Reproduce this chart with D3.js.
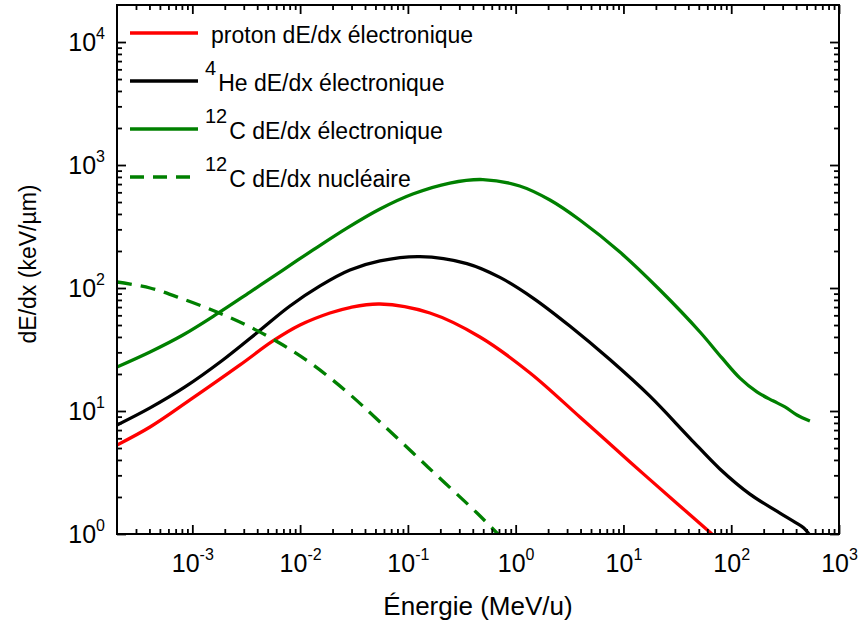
<!DOCTYPE html>
<html>
<head>
<meta charset="utf-8">
<script src="https://cdn.jsdelivr.net/npm/d3@7"></script>
<style>
  body { margin: 0; background: #fff; }
  text { font-family: Arial, "Liberation Sans", sans-serif; fill: #000; }
</style>
</head>
<body>
<svg id="chart" width="858" height="626"></svg>
<script>
// Energy (MeV/u) and stopping power (keV/µm) for each curve
const protonE = [2e-4, 4.05e-4, 9.51e-4, 2.77e-3, 5.60e-3, 9.98e-3, 1.89e-2, 2.90e-2, 5.51e-2, 0.160, 0.466, 1.36, 3.94, 11.5, 33.4, 66.2];
const protonS = [5.29, 7.41, 12.3, 23.7, 37.1, 50.0, 62.6, 69.4, 74.1, 62.6, 40.0, 20.4, 8.94, 3.85, 1.69, 1.0];

const heliumE = [2e-4, 4.05e-4, 8.55e-4, 1.92e-3, 4.06e-3, 8.05e-3, 1.53e-2, 2.90e-2, 5.51e-2, 0.129, 0.353, 0.714, 1.45, 3.18, 7.48, 17.6, 41.3, 78.5, 149, 283, 389, 472, 526];
const heliumS = [7.69, 10.6, 15.7, 26.0, 43.9, 71.4, 104, 140, 166, 180, 158, 122, 82.9, 49.1, 26.2, 13.2, 6.03, 3.38, 2.11, 1.48, 1.25, 1.12, 1.0];

const carbonE = [2e-4, 4.05e-4, 8.18e-4, 1.69e-3, 3.43e-3, 6.93e-3, 1.32e-2, 2.72e-2, 5.51e-2, 0.111, 0.245, 0.497, 1.09, 2.08, 3.94, 9.27, 21.8, 51.3, 82.0, 120.5, 173, 244, 315, 407, 537];
const carbonS = [22.8, 30.2, 41.5, 61.5, 92.7, 140, 204, 307, 439, 581, 714, 762, 675, 519, 357, 196, 96.3, 43.9, 27.0, 18.5, 14.3, 12.1, 10.8, 9.28, 8.29];

const carbonNucE = [2e-4, 4.05e-4, 8.18e-4, 1.69e-3, 3.43e-3, 6.93e-3, 1.32e-2, 2.72e-2, 5.51e-2, 0.153, 0.438, 0.684];
const carbonNucS = [112, 100, 81.4, 63.8, 48.2, 34.4, 23.7, 14.3, 8.14, 3.51, 1.48, 1.0];

const legendSup = ["", "4", "12", "12"];
const legendText = ["proton dE/dx électronique", "He dE/dx électronique", "C dE/dx électronique", "C dE/dx nucléaire"];

const xMajor = [1e-3, 1e-2, 1e-1, 1e0, 1e1, 1e2, 1e3];
const xMajorExp = ["-3", "-2", "-1", "0", "1", "2", "3"];
const yMajor = [1e0, 1e1, 1e2, 1e3, 1e4];
const yMajorExp = ["0", "1", "2", "3", "4"];

const xTitle = "Énergie (MeV/u)";
const yTitle = "dE/dx (keV/µm)";

// ---- layout ----
const L = 117, R = 839, T = 5, B = 534;
const svg = d3.select("#chart");

const x = d3.scaleLog().domain([2e-4, 1e3]).range([L, R]);
const y = d3.scaleLog().domain([1, 2e4]).range([B, T]);

function minorTicks(scale) {
  const [a, b] = scale.domain();
  const out = [];
  for (let e = Math.floor(Math.log10(a)); e <= Math.ceil(Math.log10(b)); e++) {
    for (let m = 2; m <= 9; m++) {
      const v = m * Math.pow(10, e);
      if (v > a * 1.0001 && v < b * 0.9999) out.push(v);
    }
  }
  return out;
}
const xMinor = minorTicks(x);
const yMinor = minorTicks(y);

const clipId = "plotclip";
svg.append("defs").append("clipPath").attr("id", clipId)
  .append("rect").attr("x", L).attr("y", T).attr("width", R - L).attr("height", B - T);

// ---- curves ----
const line = d3.line()
  .x(d => x(d[0]))
  .y(d => y(d[1]))
  .curve(d3.curveCatmullRom.alpha(0.5));

const series = [
  { E: protonE, S: protonS, color: "#ff0000", dash: null },
  { E: heliumE, S: heliumS, color: "#000000", dash: null },
  { E: carbonE, S: carbonS, color: "#008000", dash: null },
  { E: carbonNucE, S: carbonNucS, color: "#008000", dash: "15 9" }
];

const plot = svg.append("g").attr("clip-path", `url(#${clipId})`);
series.forEach(s => {
  plot.append("path")
    .datum(s.E.map((e, i) => [e, s.S[i]]))
    .attr("d", line)
    .attr("fill", "none")
    .attr("stroke", s.color)
    .attr("stroke-width", 3.3)
    .attr("stroke-dasharray", s.dash)
    .attr("stroke-linejoin", "round");
});

// ---- axes (ticks point inward on all four sides) ----
function styleAxis(g) {
  g.select(".domain").remove();
  g.selectAll(".tick line").attr("stroke", "#000").attr("stroke-width", 1.8);
}
const noLabel = () => "";
svg.append("g").attr("transform", `translate(0,${B})`)
  .call(d3.axisBottom(x).tickValues(xMinor).tickSize(-5).tickFormat(noLabel)).call(styleAxis);
const xb = svg.append("g").attr("transform", `translate(0,${B})`)
  .call(d3.axisBottom(x).tickValues(xMajor).tickSize(-9).tickFormat(noLabel)).call(styleAxis);
svg.append("g").attr("transform", `translate(0,${T})`)
  .call(d3.axisTop(x).tickValues(xMinor).tickSize(-5).tickFormat(noLabel)).call(styleAxis);
svg.append("g").attr("transform", `translate(0,${T})`)
  .call(d3.axisTop(x).tickValues(xMajor).tickSize(-9).tickFormat(noLabel)).call(styleAxis);

svg.append("g").attr("transform", `translate(${L},0)`)
  .call(d3.axisLeft(y).tickValues(yMinor).tickSize(-5).tickFormat(noLabel)).call(styleAxis);
const yl = svg.append("g").attr("transform", `translate(${L},0)`)
  .call(d3.axisLeft(y).tickValues(yMajor).tickSize(-9).tickFormat(noLabel)).call(styleAxis);
svg.append("g").attr("transform", `translate(${R},0)`)
  .call(d3.axisRight(y).tickValues(yMinor).tickSize(-5).tickFormat(noLabel)).call(styleAxis);
svg.append("g").attr("transform", `translate(${R},0)`)
  .call(d3.axisRight(y).tickValues(yMajor).tickSize(-9).tickFormat(noLabel)).call(styleAxis);

// Power-of-ten labels: "10" with a raised exponent
xb.selectAll(".tick text").each(function (d, i) {
  const t = d3.select(this)
    .attr("y", 38).attr("dy", null)
    .attr("text-anchor", "middle")
    .attr("font-size", 25).text("10");
  t.append("tspan").attr("font-size", 16).attr("dy", -12).text(xMajorExp[i]);
});
yl.selectAll(".tick text").each(function (d, i) {
  const t = d3.select(this)
    .attr("x", -12).attr("dy", null).attr("y", 8)
    .attr("text-anchor", "end")
    .attr("font-size", 25).text("10");
  t.append("tspan").attr("font-size", 16).attr("dy", -12).text(yMajorExp[i]);
});

// frame
svg.append("rect")
  .attr("x", L).attr("y", T).attr("width", R - L).attr("height", B - T)
  .attr("fill", "none").attr("stroke", "#000").attr("stroke-width", 2);

// ---- axis titles ----
svg.append("text").attr("x", 478).attr("y", 615)
  .attr("text-anchor", "middle").attr("font-size", 26).text(xTitle);
svg.append("text").attr("transform", "translate(36,264) rotate(-90)")
  .attr("text-anchor", "middle").attr("font-size", 23).text(yTitle);

// ---- legend ----
const legY0 = 33, legStep = 48;
series.forEach((s, i) => {
  const cy = legY0 + i * legStep;
  svg.append("line")
    .attr("x1", 130).attr("x2", s.dash ? 191 : 198).attr("y1", cy).attr("y2", cy)
    .attr("stroke", s.color).attr("stroke-width", 3.3)
    .attr("stroke-dasharray", s.dash ? "14 9" : null);
  let tx = 211;
  if (legendSup[i]) {
    const sup = svg.append("text").attr("x", 205).attr("y", cy - 6)
      .attr("font-size", 20).text(legendSup[i]);
    tx = 205 + sup.node().getComputedTextLength() + 2;
  }
  svg.append("text").attr("x", tx).attr("y", cy + 10)
    .attr("font-size", 23).text(legendText[i]);
});
</script>
</body>
</html>
